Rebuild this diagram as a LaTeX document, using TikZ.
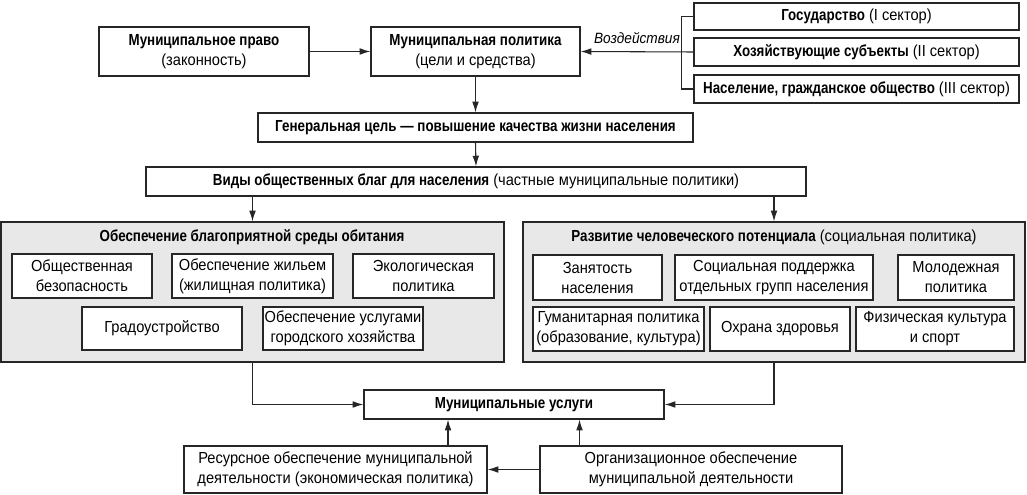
\documentclass[tikz,border=0pt]{standalone}
\usepackage{fontspec}
\setmainfont{Liberation Sans}[FakeStretch=0.915, BoldFeatures={FakeStretch=0.835}]
\usetikzlibrary{fit,calc,arrows.meta}
\tikzset{
  box/.style={draw=black!85, fill=white, line width=0.9pt, inner sep=0pt},
  grp/.style={draw=black!85, fill=black!9, line width=0.9pt, inner sep=0pt},
  ttl/.style={inner sep=0pt, align=center},
  arr/.style={-{Latex[length=8pt,width=5pt]}, line width=0.8pt, draw=black!85},
  ln/.style={line width=0.8pt, draw=black!85}
}
\begin{document}
\begin{tikzpicture}[x=0.75pt,y=-0.75pt,font=\fontsize{12}{15}\selectfont]
\useasboundingbox (0,0) rectangle (1027,495);
\fill[white] (0,0) rectangle (1027,495);
% top row
\node[box, fit={(99,27) (309,76)}] (law) {};
\node[ttl] (lawT) at (law.center) {\textbf{Муниципальное право}\\(законность)};
\node[box, fit={(371,27) (580,76)}] (policy) {};
\node[ttl] (policyT) at (policy.center) {\textbf{Муниципальная политика}\\(цели и средства)};
\node[box, fit={(694,3) (1019,30)}] (s1) {};
\node[ttl] (s1T) at (s1.center) {\textbf{Государство} (I сектор)};
\node[box, fit={(694,38) (1019,66)}] (s2) {};
\node[ttl] (s2T) at (s2.center) {\textbf{Хозяйствующие субъекты} (II сектор)};
\node[box, fit={(694,75) (1019,103)}] (s3) {};
\node[ttl] (s3T) at (s3.center) {\textbf{Население, гражданское общество} (III сектор)};
\coordinate (br) at ($(s2.west)+(-11.5,0)$);
\draw[ln] (s1.west) -| (br) |- (s3.west);
\draw[arr] (s2.west) -- node[above=2pt, font=\fontsize{11.2}{13}\selectfont\itshape] (lbl) {Воздействия} (policy.east);
\draw[arr] (law.east) -- (policy.west);
% goal and kinds
\node[box, fit={(258,113) (693,142)}] (goal) {};
\node[ttl] (goalT) at (goal.center) {\textbf{Генеральная цель — повышение качества жизни населения}};
\node[box, fit={(146,167) (806,196)}] (kinds) {};
\node[ttl] (kindsT) at (kinds.center) {\textbf{Виды общественных благ для населения} (частные муниципальные политики)};
\draw[arr] (policy.south) -- (goal.north);
\draw[arr] (goal.south) -- (kinds.north);
% groups
\node[grp, fit={(1,222) (504,362)}] (env) {};
\node[grp, fit={(523,222) (1025,362)}] (hum) {};
\node[ttl] (envT) at (252,237) {\textbf{Обеспечение благоприятной среды обитания}};
\node[ttl] (humT) at (774,237) {\textbf{Развитие человеческого потенциала} (социальная политика)};
\draw[arr] (kinds.south -| env.north) -- (env.north);
\draw[arr] (kinds.south -| hum.north) -- (hum.north);
% left inner
\node[box, fit={(12,254) (152,298)}] (e1) {};
\node[ttl] (e1T) at (e1.center) {Общественная\\безопасность};
\node[box, fit={(172,254) (333,298)}] (e2) {};
\node[ttl] (e2T) at (e2.center) {Обеспечение жильем\\(жилищная политика)};
\node[box, fit={(353,254) (494,298)}] (e3) {};
\node[ttl] (e3T) at (e3.center) {Экологическая\\политика};
\node[box, fit={(82,307) (242,350)}] (e4) {};
\node[ttl] (e4T) at (e4.center) {Градоустройство};
\node[box, fit={(263,307) (423,350)}] (e5) {};
\node[ttl] (e5T) at (e5.center) {Обеспечение услугами\\городского хозяйства};
% right inner
\node[box, fit={(533,255) (662,300)}] (h1) {};
\node[ttl] (h1T) at (h1.center) {Занятость\\населения};
\node[box, fit={(675,255) (873,300)}] (h2) {};
\node[ttl] (h2T) at (h2.center) {Социальная поддержка\\отдельных групп населения};
\node[box, fit={(898,255) (1014,300)}] (h3) {};
\node[ttl] (h3T) at (h3.center) {Молодежная\\политика};
\node[box, fit={(533,307) (704,351)}] (h4) {};
\node[ttl] (h4T) at (h4.center) {Гуманитарная политика\\(образование, культура)};
\node[box, fit={(710,307) (850,351)}] (h5) {};
\node[ttl] (h5T) at (h5.center) {Охрана здоровья};
\node[box, fit={(856,307) (1014,351)}] (h6) {};
\node[ttl] (h6T) at (h6.center) {Физическая культура\\и спорт};
% bottom
\node[box, fit={(364,390) (664,419)}] (serv) {};
\node[ttl] (servT) at (serv.center) {\textbf{Муниципальные услуги}};
\node[box, fit={(184,446) (487,493)}] (res) {};
\node[ttl] (resT) at (res.center) {Ресурсное обеспечение муниципальной\\деятельности (экономическая политика)};
\node[box, fit={(540,446) (842,493)}] (org) {};
\node[ttl] (orgT) at (org.center) {Организационное обеспечение\\муниципальной деятельности};
\draw[arr] (env.south) |- (serv.west);
\draw[arr] (hum.south) |- (serv.east);
\coordinate (ua) at ($(serv.south)+(-66,0)$);
\coordinate (ub) at ($(serv.south)+(65.5,0)$);
\draw[arr] (res.north -| ua) -- (ua);
\draw[arr] (org.north -| ub) -- (ub);
\draw[arr] (org.west) -- (res.east);
\end{tikzpicture}
\end{document}
